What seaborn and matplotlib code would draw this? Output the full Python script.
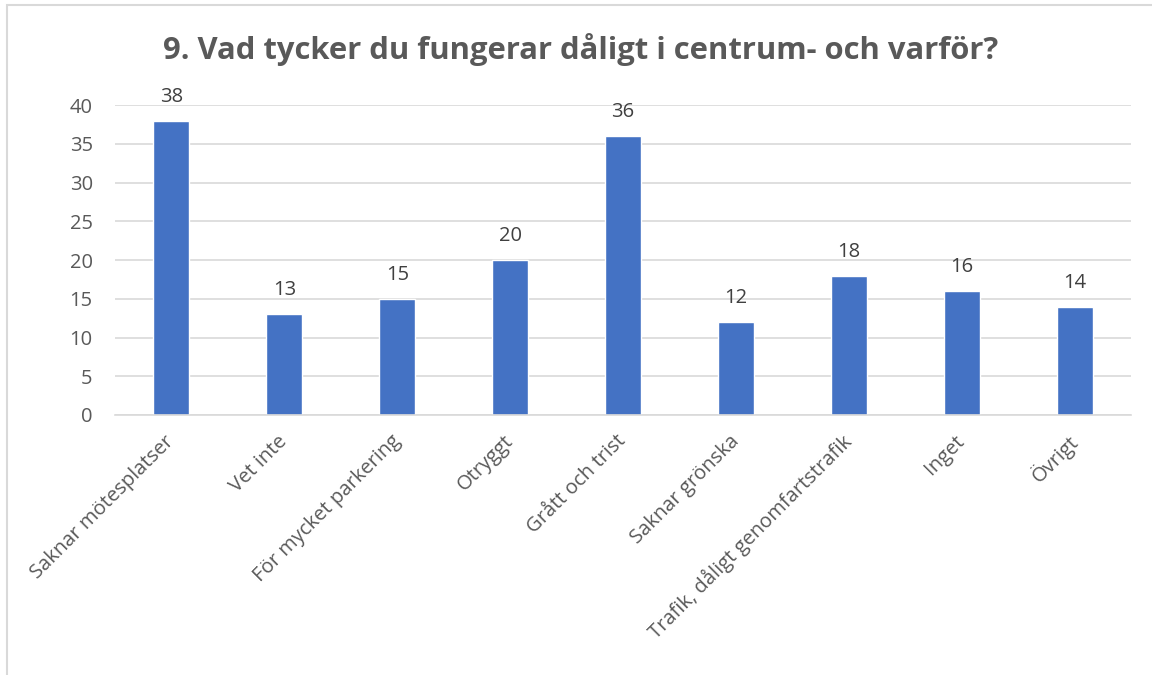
import matplotlib
matplotlib.use("Agg")
import pandas as pd
import seaborn as sns
from matplotlib import pyplot as plt
from matplotlib.patches import Rectangle

categories = ["Saknar mötesplatser", "Vet inte", "För mycket parkering", "Otryggt",
              "Grått och trist", "Saknar grönska", "Trafik, dåligt genomfartstrafik",
              "Inget", "Övrigt"]
values = [38, 13, 15, 20, 36, 12, 18, 16, 14]
yticks = [0, 5, 10, 15, 20, 25, 30, 35, 40]
title = "9. Vad tycker du fungerar dåligt i centrum- och varför?"

sns.set_theme(style="white")
plt.rcParams['font.family'] = ['Open Sans', 'DejaVu Sans']

df = pd.DataFrame({"kategori": categories, "antal": values})

fig = plt.figure(figsize=(11.52, 6.75), dpi=100)
ax = fig.add_axes([0.0998, 0.3852, 0.8822, 0.4592])

sns.barplot(data=df, x="kategori", y="antal", color="#4472C4", saturation=1,
            width=0.32, ax=ax)

ax.set_xlim(-0.5, len(categories) - 0.5)
ax.set_ylim(0, 40)
ax.set_yticks(yticks)
ax.yaxis.grid(True, color="#D9D9D9", linewidth=1.2)
ax.set_axisbelow(True)
for s in ["top", "right", "left"]:
    ax.spines[s].set_visible(False)
ax.spines["bottom"].set_color("#D9D9D9")
ax.spines["bottom"].set_linewidth(1.2)
ax.set_xlabel("")
ax.set_ylabel("")
ax.tick_params(axis="both", length=0, colors="#595959", labelsize=14.5)
ax.tick_params(axis="y", pad=16)
plt.setp(ax.get_xticklabels(), rotation=45, ha="right", va="center",
         rotation_mode="anchor")
for lbl in ax.get_xticklabels():
    lbl.set_y(-0.06)

for c in ax.containers:
    ax.bar_label(c, padding=10, fontsize=14.5, color="#404040")

fig.text(0.504, 0.927, title, ha="center", va="center", fontsize=22.3,
         fontweight="bold", color="#595959")

# outer chart border
fig.patches.append(Rectangle((7 / 1152, -0.1), 1.2, 1.1 - 5 / 675, transform=fig.transFigure,
                             fill=False, edgecolor="#D9D9D9", linewidth=1.5))

fig.savefig("out.png", dpi=100)
